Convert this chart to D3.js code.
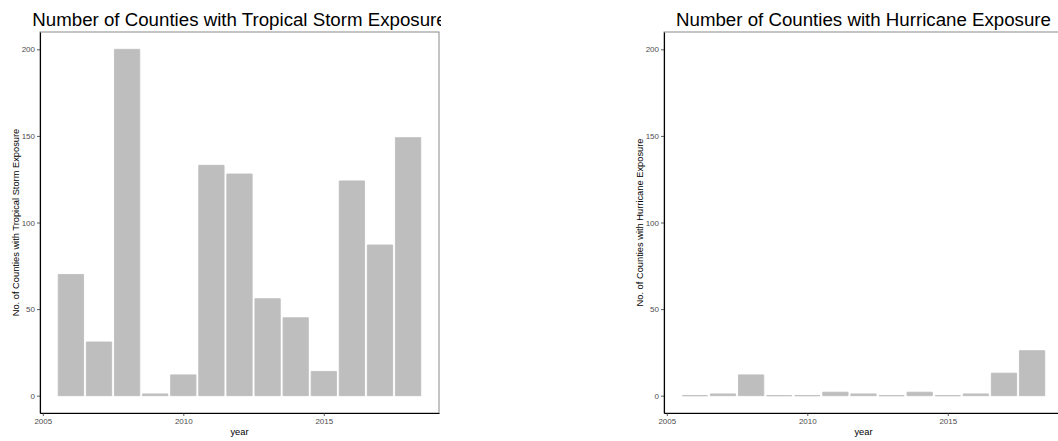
<!DOCTYPE html>
<html>
<head>
<meta charset="utf-8">
<script src="https://cdn.jsdelivr.net/npm/d3@7"></script>
<style>
  body { margin: 0; background: #fff; }
  text { font-family: "Liberation Sans", Arial, Helvetica, sans-serif; }
</style>
</head>
<body>
<script>
//data
var years = [2006, 2007, 2008, 2009, 2010, 2011, 2012, 2013, 2014, 2015, 2016, 2017, 2018];
var stormCounts = [70, 31, 200, 1, 12, 133, 128, 56, 45, 14, 124, 87, 149];
var hurricaneCounts = [0, 1, 12, 0, 0, 2, 1, 0, 2, 0, 1, 13, 26];
var yTicks = [0, 50, 100, 150, 200];
var xTicks = [2005, 2010, 2015];

var w = 1058, h = 441;
var svg = d3.select("body").append("svg")
    .attr("width", w)
    .attr("height", h);

//one panel = title, box, bars, axes
function drawPanel(opt){
    var g = svg.append("g");
    if (opt.clip) {
        svg.append("clipPath").attr("id", opt.id + "-clip")
            .append("rect").attr("x", 0).attr("y", 0)
            .attr("width", opt.clip).attr("height", h);
        g.attr("clip-path", "url(#" + opt.id + "-clip)");
    }

    var x = d3.scaleLinear().domain([2004.9, 2019.1]).range([opt.x0, opt.x1]);
    var y = d3.scaleLinear().domain([-10, 210]).range([opt.y1, opt.y0]);

    //panel border (top and right show as thin grey)
    g.append("rect")
        .attr("x", opt.x0).attr("y", opt.y0)
        .attr("width", opt.x1 - opt.x0).attr("height", opt.y1 - opt.y0)
        .style("fill", "none")
        .style("stroke", "#8a8a8a")
        .style("stroke-width", 1);

    //bars as paths so zero counts still show as a thin line
    g.selectAll(".bar")
        .data(years.map(function(d, i){ return {year: d, value: opt.values[i]}; }))
        .enter()
        .append("path")
        .attr("class", "bar")
        .attr("d", function(d){
            var p = d3.path();
            p.rect(x(d.year - 0.45), y(d.value), x(d.year + 0.45) - x(d.year - 0.45), y(0) - y(d.value));
            return p.toString();
        })
        .style("fill", "#bebebe")
        .style("stroke", "#bebebe")
        .style("stroke-width", 0.9);

    //y axis
    var yAxis = g.append("g")
        .attr("transform", "translate(" + opt.x0 + ",0)")
        .call(d3.axisLeft(y).tickValues(yTicks).tickSize(3).tickSizeOuter(0).tickPadding(2));
    //x axis
    var xAxis = g.append("g")
        .attr("transform", "translate(0," + opt.y1 + ")")
        .call(d3.axisBottom(x).tickValues(xTicks).tickFormat(d3.format("d")).tickSize(3).tickSizeOuter(0).tickPadding(2));

    [yAxis, xAxis].forEach(function(a){
        a.select(".domain").style("stroke", "#000").style("stroke-width", 1.1);
        a.selectAll(".tick line").style("stroke", "#333").style("stroke-width", 0.8);
        a.selectAll(".tick text")
            .style("fill", "#4d4d4d")
            .style("font-size", "8px")
            .style("font-family", "'Liberation Sans', Arial, sans-serif");
    });

    //title, centred on panel
    g.append("text")
        .attr("x", (opt.x0 + opt.x1) / 2)
        .attr("y", 26)
        .attr("text-anchor", "middle")
        .style("font-size", "18.7px")
        .style("fill", "#000")
        .text(opt.title);

    //x axis title
    g.append("text")
        .attr("x", (opt.x0 + opt.x1) / 2)
        .attr("y", 435)
        .attr("text-anchor", "middle")
        .style("font-size", "9.3px")
        .style("fill", "#000")
        .text("year");

    //y axis title
    g.append("text")
        .attr("transform", "translate(" + (opt.x0 - 21.5) + "," + ((opt.y0 + opt.y1) / 2) + ") rotate(-90)")
        .attr("text-anchor", "middle")
        .style("font-size", "9.3px")
        .style("fill", "#000")
        .text(opt.ylab);
}

drawPanel({
    id: "storm",
    x0: 40, x1: 439, y0: 32, y1: 413,
    clip: 441,
    values: stormCounts,
    title: "Number of Counties with Tropical Storm Exposure",
    ylab: "No. of Counties with Tropical Storm Exposure"
});

drawPanel({
    id: "hurricane",
    x0: 664, x1: 1063, y0: 32, y1: 413,
    values: hurricaneCounts,
    title: "Number of Counties with Hurricane Exposure",
    ylab: "No. of Counties with Hurricane Exposure"
});
</script>
</body>
</html>
